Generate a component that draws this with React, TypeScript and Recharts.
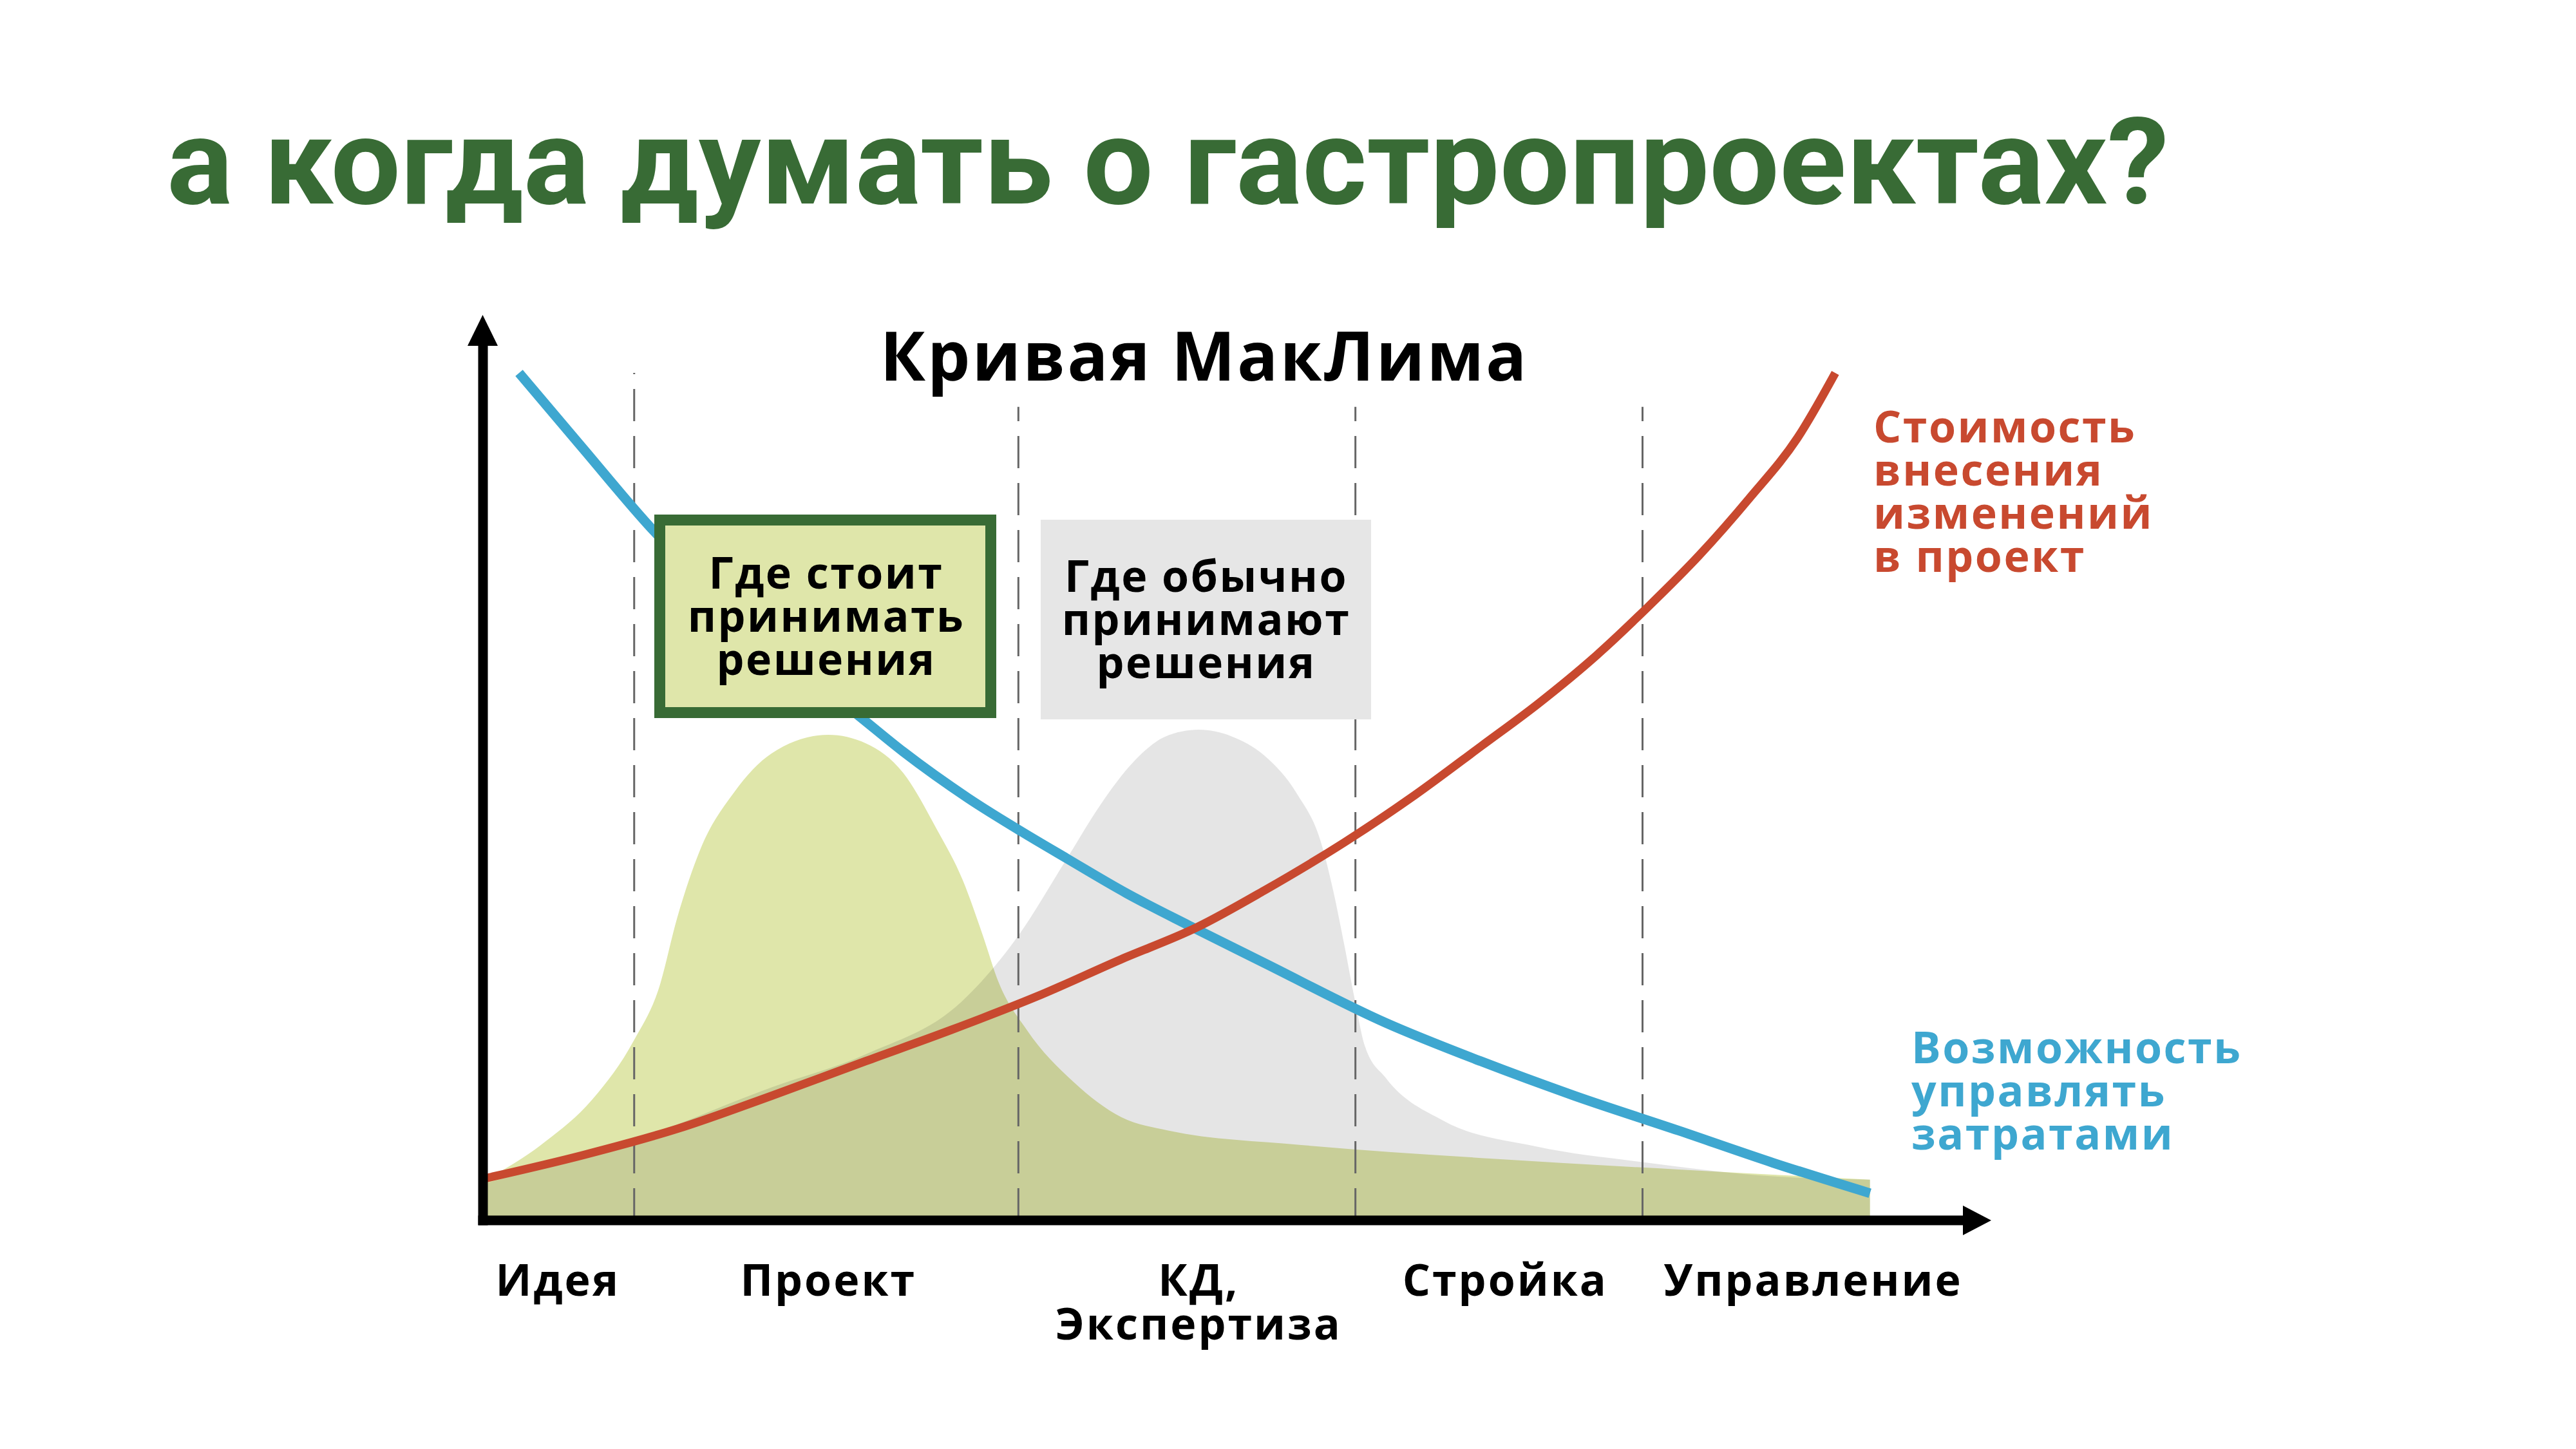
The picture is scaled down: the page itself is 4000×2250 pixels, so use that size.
import { Area, ComposedChart, Line, ReferenceLine, XAxis, YAxis } from "recharts"

// stages along the x axis
const stageLabels = ["Идея", "Проект", "КД,\nЭкспертиза", "Стройка", "Управление"]
const stageTicks = [5.4, 24.9, 51.6, 73.7, 95.9]
const stageBounds = [10.9, 38.6, 62.9, 83.6]
const boundTops = [100, 96, 96, 96]

// cost of changes (red)
const costX = [0, 7.2, 14.0, 20.8, 27.6, 33.8, 39.9, 46.0, 51.5, 56.3, 62.1, 67.2, 72.0, 76.1, 80.3, 84.0, 87.7, 91.3, 94.8, 97.5]
const costY = [4.9, 7.7, 10.8, 14.7, 18.8, 22.5, 26.4, 30.8, 34.6, 38.9, 44.6, 50.2, 56.0, 61.0, 66.7, 72.4, 78.5, 85.2, 92.4, 100]

// ability to control costs (blue)
const controlX = [2.6, 7.1, 12.4, 19.5, 23.2, 27.2, 30.3, 35.0, 38.7, 42.1, 46.4, 50.9, 56.3, 65.1, 71.9, 78.7, 86.2, 93.0, 100]
const controlY = [100, 91.3, 81.2, 70.3, 64.6, 59.4, 55.3, 49.8, 46.0, 42.7, 38.6, 34.8, 30.4, 23.3, 18.8, 14.7, 10.6, 6.8, 3.2]

// where decisions should be made (green bell)
const shouldX = [0, 4.5, 7.9, 10.9, 12.7, 14.0, 15.7, 18.1, 20.8, 24.9, 27.6, 30.3, 32.7, 34.6, 36.0, 37.2, 39.2, 42.6, 46.0, 49.4, 59.0, 72.6, 86.2, 100]
const shouldY = [4.6, 9.3, 14.3, 21.3, 27.5, 35.7, 43.9, 50.5, 55.1, 57.3, 56.3, 52.8, 46.2, 40.1, 33.8, 28.0, 22.5, 16.3, 12.2, 10.6, 8.9, 7.3, 6.0, 4.8]

// where decisions are usually made (gray bell)
const usualX = [0, 11.3, 20.8, 27.6, 34.5, 38.6, 42.1, 44.5, 46.9, 49.2, 51.6, 54.0, 56.3, 58.7, 60.4, 61.3, 62.1, 62.8, 63.6, 65.1, 69.2, 76.0, 83.5, 93.0, 100]
const usualY = [4.3, 9.7, 15.7, 19.6, 25.8, 33.6, 42.7, 49.0, 54.1, 57.1, 57.9, 57.1, 54.9, 50.3, 44.7, 38.9, 32.5, 26.5, 20.5, 16.8, 11.8, 8.7, 6.9, 5.2, 4.8]

const pts = (xs: number[], ys: number[]) => xs.map((x, i) => ({ x, y: ys[i] }))

const RED = "#c8492f"
const BLUE = "#3ea7d0"
const DARK_GREEN = "#386b35"
const FONT = "'Open Sans', sans-serif"

function StageTick(props: any) {
  const { x, payload } = props
  const i = stageTicks.indexOf(payload.value)
  const lines = (stageLabels[i] ?? "").split("\n")
  return (
    <text x={x} y={2012} textAnchor="middle" fontFamily={FONT} fontWeight={700} fontSize={68} letterSpacing={3} fill="#000">
      {lines.map((l, k) => (
        <tspan key={k} x={x} dy={k === 0 ? 0 : 68}>{l}</tspan>
      ))}
    </text>
  )
}

function Lines({ x, y, lines, fill, anchor = "start" }: { x: number; y: number; lines: string[]; fill: string; anchor?: string }) {
  return (
    <text x={x} y={y} textAnchor={anchor as any} fontFamily={FONT} fontWeight={700} fontSize={68} letterSpacing={2.5} fill={fill}>
      {lines.map((l, k) => (
        <tspan key={k} x={x} dy={k === 0 ? 0 : 67}>{l}</tspan>
      ))}
    </text>
  )
}

export default function App() {
  return (
    <div style={{ position: "absolute", left: 0, top: 0, width: 4000, height: 2250, background: "#fff" }}>
      <ComposedChart width={4000} height={2250} margin={{ top: 537, right: 952, bottom: 295, left: 690 }}>
        <XAxis
          type="number"
          dataKey="x"
          domain={[0, 106.7]}
          ticks={stageTicks}
          tick={<StageTick />}
          tickLine={false}
          axisLine={{ stroke: "#000", strokeWidth: 15, strokeLinecap: "square" }}
          height={60}
          interval={0}
        />
        <YAxis
          type="number"
          domain={[0, 103.2]}
          width={60}
          tick={false}
          tickLine={false}
          axisLine={{ stroke: "#000", strokeWidth: 15, strokeLinecap: "square" }}
        />
        <Area data={pts(shouldX, shouldY)} dataKey="y" type="monotone" fill="#dfe6aa" fillOpacity={1} stroke="none" isAnimationActive={false} />
        <Area data={pts(usualX, usualY)} dataKey="y" type="monotone" fill="#000" fillOpacity={0.1} stroke="none" isAnimationActive={false} />
        {stageBounds.map((b, i) => (
          <ReferenceLine key={b} segment={[{ x: b, y: 0 }, { x: b, y: boundTops[i] }]} stroke="#666" strokeWidth={3} strokeDasharray="50 23" />
        ))}
        <Line data={pts(controlX, controlY)} dataKey="y" type="monotone" stroke={BLUE} strokeWidth={15} dot={false} isAnimationActive={false} />
        <Line data={pts(costX, costY)} dataKey="y" type="monotone" stroke={RED} strokeWidth={13} dot={false} isAnimationActive={false} />
      </ComposedChart>

      <svg width={4000} height={2250} style={{ position: "absolute", left: 0, top: 0, pointerEvents: "none" }}>
        <text x={259} y={316} fontFamily="Roboto, sans-serif" fontWeight={700} fontSize={188} fill={DARK_GREEN} textLength={3109} lengthAdjust="spacingAndGlyphs">
          а когда думать о гастропроектах?
        </text>
        <text x={1870} y={591} textAnchor="middle" fontFamily={FONT} fontWeight={700} fontSize={105} letterSpacing={3} fill="#000">
          Кривая МакЛима
        </text>

        <polygon points="749.5,489 773,537 726,537" fill="#000" />
        <polygon points="3092,1895 3048,1872 3048,1918" fill="#000" />

        <rect x={1024.5} y={807.5} width={514} height={299} fill="#dfe6aa" stroke={DARK_GREEN} strokeWidth={17} />
        <Lines x={1283} y={914} anchor="middle" fill="#000" lines={["Где стоит", "принимать", "решения"]} />

        <rect x={1616} y={807} width={513} height={310} fill="#e6e6e6" />
        <Lines x={1873} y={919} anchor="middle" fill="#000" lines={["Где обычно", "принимают", "решения"]} />

        <Lines x={2909} y={687} fill={RED} lines={["Стоимость", "внесения", "изменений", "в проект"]} />
        <Lines x={2968} y={1651} fill={BLUE} lines={["Возможность", "управлять", "затратами"]} />
      </svg>
    </div>
  )
}
